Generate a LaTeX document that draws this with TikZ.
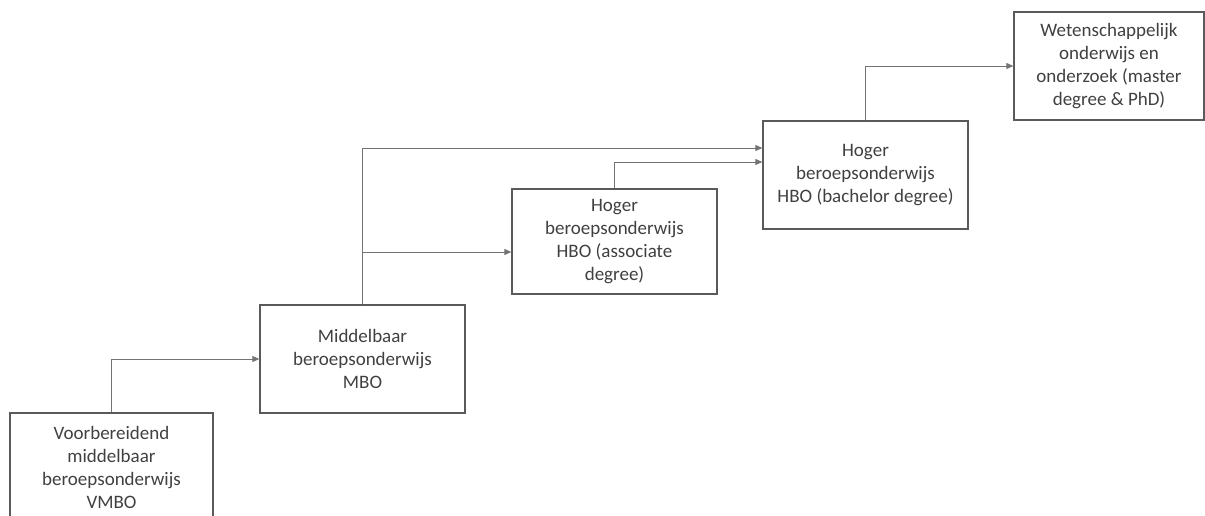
\documentclass[tikz,border=0pt]{standalone}
\usepackage{fontspec}
\setmainfont{Carlito}
\usetikzlibrary{arrows.meta}
\definecolor{txt}{HTML}{404040}
\definecolor{ln}{HTML}{5A5A5A}
\tikzset{
  box/.style={draw=ln, line width=1.3pt, minimum width=203pt, minimum height=108pt,
    inner sep=0pt, align=center, text=txt, font=\fontsize{19}{23}\selectfont},
  conn/.style={draw=ln!85, line width=0.8pt, -{Triangle[length=7pt,width=6pt]}}
}
\begin{document}
\begin{tikzpicture}[x=1pt,y=-1pt]
\useasboundingbox (0,0) rectangle (1205,515);
\clip (0,0) rectangle (1205,515);
\node[box] (vmbo) at (111.5,467) {Voorbereidend\\middelbaar\\beroepsonderwijs\\VMBO};
\node[box, minimum width=205pt] (mbo) at (362.5,359) {Middelbaar\\beroepsonderwijs\\MBO};
\node[box, minimum width=205pt, minimum height=105pt] (hboa) at (614.5,241.5) {Hoger\\beroepsonderwijs\\HBO (associate\\degree)};
\node[box, minimum width=205pt] (hbob) at (865.5,175) {Hoger\\beroepsonderwijs\\HBO (bachelor degree)};
\node[box, minimum width=190pt] (wo) at (1109,66) {Wetenschappelijk\\onderwijs en\\onderzoek (master\\degree \& PhD)};
\draw[conn] (vmbo.north) |- (mbo.west);
\draw[conn] (mbo.north) |- ([yshift=-10.5pt]hboa.west);
\draw[conn] (mbo.north) |- ([yshift=27pt]hbob.west);
\draw[conn] (hboa.north) |- ([yshift=13pt]hbob.west);
\draw[conn] (hbob.north) |- (wo.west);
\end{tikzpicture}
\end{document}
